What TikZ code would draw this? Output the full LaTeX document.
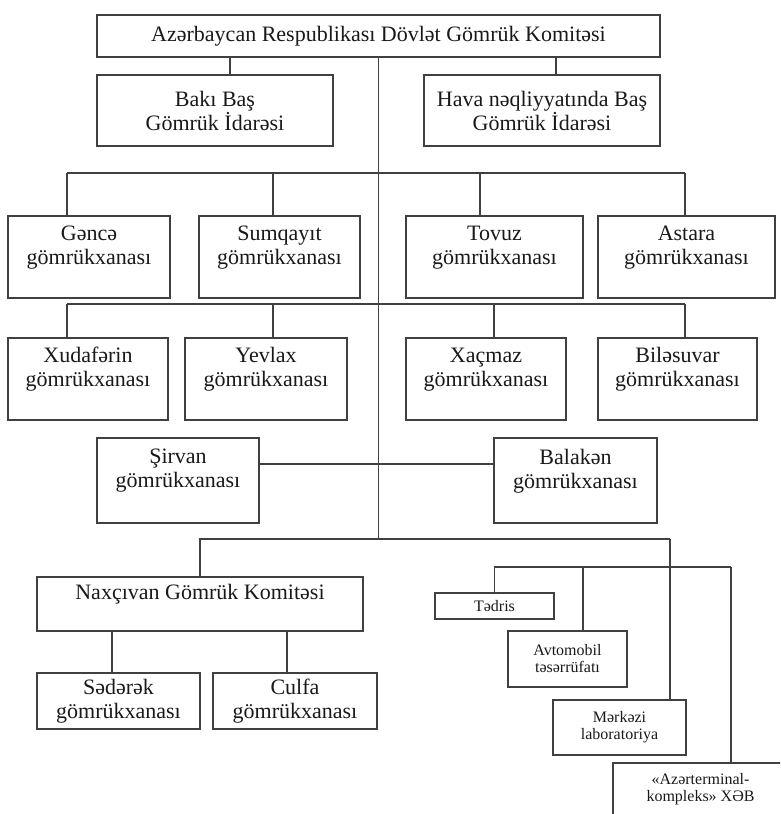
\documentclass[tikz,border=0pt]{standalone}
\usepackage{fontspec}
\setmainfont{Liberation Serif}
\begin{document}
\begin{tikzpicture}[x=1pt,y=-1pt,
  box/.style={draw=black!75,line width=1.5pt,inner sep=0pt,align=center,
    text=black!90,font=\fontsize{22}{24}\selectfont},
  smallbox/.style={box,font=\fontsize{16}{17}\selectfont},
  conn/.style={draw=black!75,line width=1.5pt}]
\useasboundingbox (0,0) rectangle (780,814);
\clip (0,0) rectangle (780,814);

\node[box,minimum width=563,minimum height=42] (dgk) at (378.5,36) {Azərbaycan Respublikası Dövlət Gömrük Komitəsi};
\node[box,minimum width=236,minimum height=71] (baki) at (215,110.5) {Bakı Baş\\ Gömrük İdarəsi};
\node[box,minimum width=236,minimum height=71] (hava) at (542,110.5) {Hava nəqliyyatında Baş\\ Gömrük İdarəsi};

\node[box,minimum width=162,minimum height=82] (ganca) at (89,257) {Gəncə\\ gömrükxanası\\ ~};
\node[box,minimum width=161,minimum height=82] (sumqayit) at (279.5,257) {Sumqayıt\\ gömrükxanası\\ ~};
\node[box,minimum width=177,minimum height=82] (tovuz) at (494.5,257) {Tovuz\\ gömrükxanası\\ ~};
\node[box,minimum width=177,minimum height=82] (astara) at (686.5,257) {Astara\\ gömrükxanası\\ ~};

\node[box,minimum width=160,minimum height=82] (xudaferin) at (88,379) {Xudafərin\\ gömrükxanası\\ ~};
\node[box,minimum width=162,minimum height=82] (yevlax) at (266,379) {Yevlax\\ gömrükxanası\\ ~};
\node[box,minimum width=160,minimum height=82] (xacmaz) at (486,379) {Xaçmaz\\ gömrükxanası\\ ~};
\node[box,minimum width=159,minimum height=82] (bilesuvar) at (677.5,379) {Biləsuvar\\ gömrükxanası\\ ~};

\node[box,minimum width=162,minimum height=85] (sirvan) at (178,480.5) {Şirvan\\ gömrükxanası\\ ~};
\node[box,minimum width=163,minimum height=85] (balaken) at (575.5,480.5) {Balakən\\ gömrükxanası\\ ~};

\node[box,minimum width=326,minimum height=54] (naxcivan) at (200,604) {Naxçıvan Gömrük Komitəsi\\ ~};
\node[box,minimum width=163,minimum height=56] (sederek) at (118.5,701) {Sədərək\\ gömrükxanası};
\node[box,minimum width=164,minimum height=56] (culfa) at (295,701) {Culfa\\ gömrükxanası};

\node[smallbox,minimum width=119,minimum height=26] (tedris) at (494.5,606) {Tədris};
\node[smallbox,minimum width=119,minimum height=56] (avtomobil) at (567.5,659) {Avtomobil\\ təsərrüfatı};
\node[smallbox,minimum width=133,minimum height=55] (merkezi) at (619.5,727.5) {Mərkəzi\\ laboratoriya};
\node[smallbox,minimum width=175,minimum height=53] (azerterminal) at (700.5,789.5) {«Azərterminal-\\ kompleks» XƏB};

\coordinate (bus1w) at (67,173);
\coordinate (bus1e) at (685,173);
\coordinate (bus2w) at (67,304);
\coordinate (bus2e) at (685,304);
\coordinate (bus3w) at (199,539);
\coordinate (bus3e) at (670,539);
\coordinate (bus4w) at (494,567);
\coordinate (bus4e) at (731,567);

\draw[conn] (dgk.south) -- (dgk.south |- bus3w);
\draw[conn] ([xshift=15]baki.north) -- ([xshift=15]baki.north |- dgk.south);
\draw[conn] ([xshift=14]hava.north) -- ([xshift=14]hava.north |- dgk.south);

\draw[conn] (bus1w) -- (bus1e);
\draw[conn] ([xshift=-22]ganca.north) -- ([xshift=-22]ganca.north |- bus1w);
\draw[conn] ([xshift=-6.5]sumqayit.north) -- ([xshift=-6.5]sumqayit.north |- bus1w);
\draw[conn] ([xshift=-14.5]tovuz.north) -- ([xshift=-14.5]tovuz.north |- bus1w);
\draw[conn] ([xshift=-1.5]astara.north) -- ([xshift=-1.5]astara.north |- bus1w);

\draw[conn] (bus2w) -- (bus2e);
\draw[conn] ([xshift=-21]xudaferin.north) -- ([xshift=-21]xudaferin.north |- bus2w);
\draw[conn] ([xshift=7]yevlax.north) -- ([xshift=7]yevlax.north |- bus2w);
\draw[conn] ([xshift=8]xacmaz.north) -- ([xshift=8]xacmaz.north |- bus2w);
\draw[conn] ([xshift=7.5]bilesuvar.north) -- ([xshift=7.5]bilesuvar.north |- bus2w);

\draw[conn] ([yshift=16.5]sirvan.east) -- ([yshift=16.5]balaken.west);

\draw[conn] (bus3w) -- (bus3e);
\draw[conn] (naxcivan.north) -- (naxcivan.north |- bus3w);
\draw[conn] ([xshift=50.5]merkezi.north) -- ([xshift=50.5]merkezi.north |- bus3w);
\draw[conn] ([xshift=-6.5]sederek.north) -- ([xshift=-6.5]sederek.north |- naxcivan.south);
\draw[conn] ([xshift=-8]culfa.north) -- ([xshift=-8]culfa.north |- naxcivan.south);

\draw[conn] (bus4w) -- (bus4e);
\draw[conn] (tedris.north) -- (tedris.north |- bus4w);
\draw[conn] ([xshift=15.5]avtomobil.north) -- ([xshift=15.5]avtomobil.north |- bus4w);
\draw[conn] ([xshift=30.5]azerterminal.north) -- ([xshift=30.5]azerterminal.north |- bus4w);
\end{tikzpicture}
\end{document}
